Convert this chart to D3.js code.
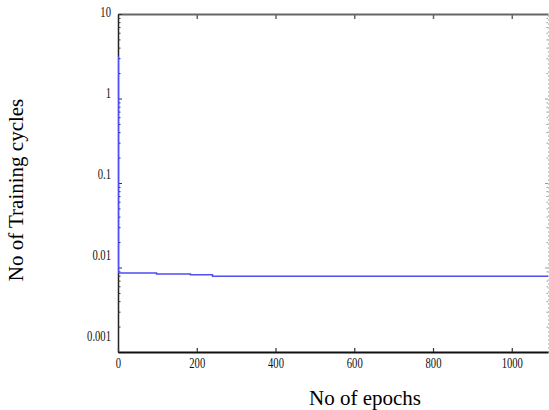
<!DOCTYPE html>
<html>
<head>
<meta charset="utf-8">
<script src="https://cdn.jsdelivr.net/npm/d3@7/dist/d3.min.js"></script>
<style>
  body { margin: 0; background: #fff; }
  svg { display: block; }
  text { font-family: "Liberation Serif", "Times New Roman", serif; }
</style>
</head>
<body>
<div id="chart"></div>
<script>
// training curve (step-wise)
const epochs = [0, 1, 98, 184, 240, 1092]
const cycles = [3.1, 0.0086, 0.0084, 0.0082, 0.0079, 0.0079]

const xTicks = [0, 200, 400, 600, 800, 1000]
const yTicks = [0.001, 0.01, 0.1, 1, 10]
const yTickLabels = ['0.001', '0.01', '0.1', '1', '10']

const width = 549
const height = 410
const plot = { left: 118, right: 548, top: 14, bottom: 352 }

const svg = d3.select('#chart').append('svg')
  .attr('width', width)
  .attr('height', height)

const x = d3.scaleLinear()
  .domain([0, 1092])
  .range([plot.left, plot.right])

const y = d3.scaleLog()
  .domain([0.001, 10])
  .range([plot.bottom, plot.top])

// the labels in the original sit a little above their ticks
const yLab = d3.scaleLog()
  .domain([0.001, 10])
  .range([336, 12])

// squeeze tick labels, the source font is narrow
function narrow(sel) {
  sel.selectAll('text').each(function () {
    const w = this.getComputedTextLength()
    d3.select(this)
      .attr('textLength', w * 0.76)
      .attr('lengthAdjust', 'spacingAndGlyphs')
  })
}

const isMajor = d => Math.abs(Math.log10(d) - Math.round(Math.log10(d))) < 1e-9

// right axis, dotted and mostly cut off
const rightAxis = svg.append('g')
  .attr('transform', `translate(${plot.right}, 0)`)
  .call(d3.axisLeft(y).tickSizeOuter(0).tickFormat(''))
rightAxis.select('.domain')
  .attr('stroke', '#999')
  .attr('stroke-dasharray', '1,3')
rightAxis.selectAll('.tick line')
  .attr('stroke', '#999')
  .attr('x2', d => isMajor(d) ? -3 : -1.5)

// top axis, ticks pointing down
const topAxis = svg.append('g')
  .attr('transform', `translate(0, ${plot.top})`)
  .call(d3.axisBottom(x).tickValues(xTicks.slice(1)).tickSize(5).tickSizeOuter(0).tickFormat(''))
topAxis.select('.domain').attr('stroke', '#666').attr('stroke-width', 2)
topAxis.selectAll('.tick line').attr('stroke', '#666').attr('stroke-width', 1.5)

// left axis: minor ticks inward
const leftAxis = svg.append('g')
  .attr('transform', `translate(${plot.left}, 0)`)
  .call(d3.axisLeft(y).tickSizeOuter(0).tickFormat(''))
leftAxis.select('.domain').attr('stroke', '#222').attr('stroke-width', 1.5)
leftAxis.selectAll('.tick line')
  .attr('stroke', '#333')
  .attr('x2', d => isMajor(d) ? 4 : 2.5)

const leftLabels = svg.append('g')
  .attr('transform', `translate(${plot.left}, 0)`)
  .call(d3.axisLeft(yLab).tickValues(yTicks).tickSize(0).tickPadding(7)
    .tickFormat((d, i) => yTickLabels[i]))
leftLabels.select('.domain').remove()
leftLabels.selectAll('text')
  .style('font-family', '"Liberation Serif", serif')
  .style('font-size', '14px')
  .attr('fill', '#111')
leftLabels.call(narrow)

// bottom axis, ticks pointing up
const bottomAxis = svg.append('g')
  .attr('transform', `translate(0, ${plot.bottom})`)
  .call(d3.axisBottom(x).tickValues(xTicks).tickFormat(d3.format('d'))
    .tickSizeInner(-4).tickSizeOuter(0).tickPadding(6))
bottomAxis.select('.domain').attr('stroke', '#111').attr('stroke-width', 2)
bottomAxis.selectAll('.tick line').attr('stroke', '#333').attr('stroke-width', 1.2)
bottomAxis.selectAll('text')
  .style('font-family', '"Liberation Serif", serif')
  .style('font-size', '14px')
  .attr('fill', '#111')
bottomAxis.call(narrow)

// the curve
svg.append('clipPath').attr('id', 'clip')
  .append('rect')
  .attr('x', plot.left).attr('y', plot.top)
  .attr('width', plot.right - plot.left).attr('height', plot.bottom - plot.top)

const line = d3.line()
  .x(d => x(d[0]))
  .y(d => y(d[1]))
  .curve(d3.curveStepAfter)

svg.append('path')
  .datum(d3.zip(epochs, cycles))
  .attr('clip-path', 'url(#clip)')
  .attr('fill', 'none')
  .attr('stroke', '#4e4ef0')
  .attr('stroke-width', 1.5)
  .attr('d', line)

// titles
svg.append('text')
  .attr('x', 365)
  .attr('y', 405)
  .attr('text-anchor', 'middle')
  .style('font-size', '21px')
  .text('No of epochs')

svg.append('text')
  .attr('transform', 'translate(23, 190) rotate(-90)')
  .attr('text-anchor', 'middle')
  .style('font-size', '21px')
  .text('No of Training cycles')
</script>
</body>
</html>
